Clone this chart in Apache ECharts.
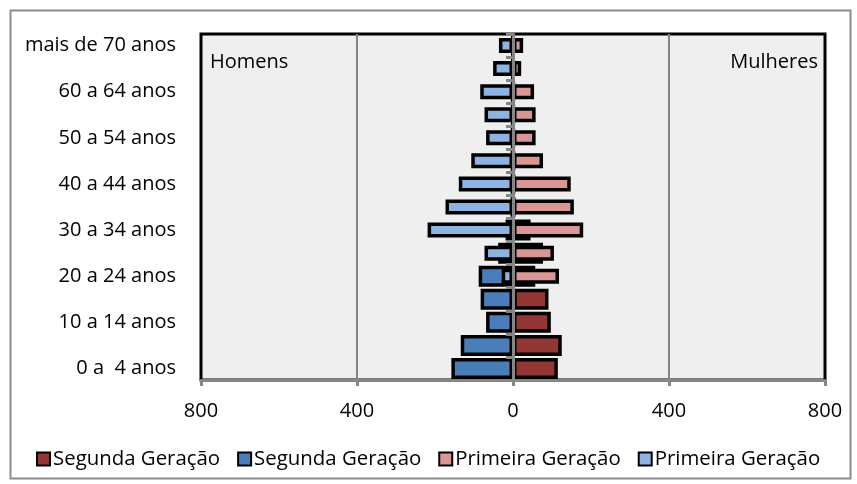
<!DOCTYPE html>
<html>
<head>
<meta charset="utf-8">
<script src="https://cdn.jsdelivr.net/npm/echarts@6/dist/echarts.min.js"></script>
<style>html,body{margin:0;padding:0;background:#fff}#c{width:857px;height:484px}</style>
</head>
<body>
<div id="c"></div>
<script>
// Age groups, bottom to top
const categories = ['0 a  4 anos','5 a 9 anos','10 a 14 anos','15 a 19 anos','20 a 24 anos','25 a 29 anos','30 a 34 anos','35 a 39 anos','40 a 44 anos','45 a 49 anos','50 a 54 anos','55 a 59 anos','60 a 64 anos','65 a 69 anos','mais de 70 anos'];
// Segunda Geração
const segundaMulheres = [115,125,97,91,57,77,45,4,3,3,2,2,2,1,1];
const segundaHomens   = [158,134,69,83,88,38,19,4,3,3,2,2,2,1,1];
// Primeira Geração
const primeiraMulheres = [0,0,0,9,118,105,180,156,148,77,58,58,54,21,26];
const primeiraHomens   = [0,0,0,2,29,73,219,173,139,107,69,73,84,51,36];
// x axis ticks
const xTicks = [-800,-400,0,400,800];

const FONT = '"Open Sans", "Noto Sans", sans-serif';
const GRAY = '#868686';
const ZW = '\u200b';

const chart = echarts.init(document.getElementById('c'), null, {renderer:'canvas'});
const bar = (name, data, axis, w, color) => ({
  name, type:'bar', yAxisIndex: axis, data, barWidth: w, barGap:'-100%',
  itemStyle:{color, borderColor:'#000', borderWidth:3.5}, emphasis:{disabled:true}
});
chart.setOption({
  animation:false,
  textStyle:{fontFamily:FONT},
  grid:{left:201, right:32, top:34, bottom:104, show:true, backgroundColor:'#eeefee', borderColor:'#000', borderWidth:3},
  xAxis:{
    type:'value', min:xTicks[0], max:xTicks[xTicks.length-1], interval:400, z:5,
    axisLine:{show:true, onZero:false, lineStyle:{color:GRAY, width:3}},
    axisTick:{show:true, length:6, lineStyle:{color:GRAY, width:3}},
    axisLabel:{formatter:v=>String(Math.abs(v)), color:'#000', fontSize:20, fontFamily:FONT, margin:21},
    splitLine:{show:true, showMinLine:false, showMaxLine:false, lineStyle:{color:GRAY, width:2}}
  },
  yAxis:[
    {type:'category', data:categories, position:'left',
     axisLine:{show:false, onZero:false}, axisTick:{show:false},
     axisLabel:{interval:1, color:'#000', fontSize:20, fontFamily:FONT, margin:25}},
    {type:'category', data:categories, position:'left', z:10,
     axisLine:{show:true, onZero:true, onZeroAxisIndex:0, lineStyle:{color:GRAY, width:3}},
     axisTick:{show:true, interval:0, length:7, lineStyle:{color:GRAY, width:3}},
     axisLabel:{show:false}}
  ],
  legend:{
    top:449, left:36, padding:0, itemWidth:13, itemHeight:13, itemGap:17, icon:'rect',
    itemStyle:{borderColor:'#000', borderWidth:2},
    textStyle:{color:'#000', fontSize:20.4, fontFamily:FONT, padding:[0,0,0,-2]},
    formatter:n=>n.replace(ZW,''),
    selectedMode:false
  },
  graphic:[
    {type:'rect', left:8, top:8, shape:{width:840, height:468}, style:{fill:'none', stroke:'#8c8c8c', lineWidth:2}, z:-1, silent:true},
    {type:'text', left:210, top:52, style:{text:'Homens', fill:'#000', font:'20px '+FONT}, z:20},
    {type:'text', right:39, top:52, style:{text:'Mulheres', fill:'#000', font:'20px '+FONT}, z:20}
  ],
  series:[
    bar('Segunda Geração', segundaMulheres, 0, 21, '#943634'),
    bar('Segunda Geração'+ZW, segundaHomens.map(v=>-v), 0, 21, '#4a7ebb'),
    bar('Primeira Geração', primeiraMulheres, 1, 15, '#d99694'),
    bar('Primeira Geração'+ZW, primeiraHomens.map(v=>-v), 1, 15, '#8db3e2')
  ]
});
</script>
</body>
</html>
